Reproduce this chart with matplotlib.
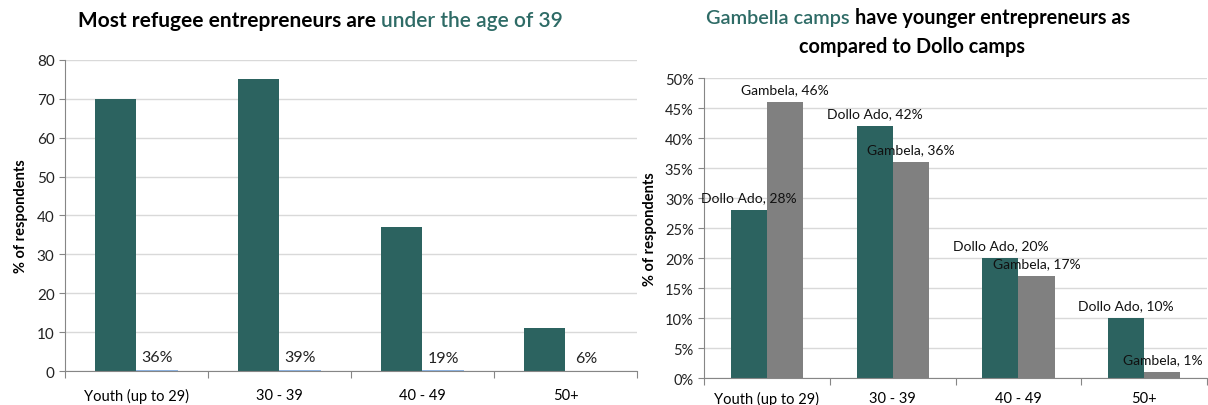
import matplotlib.pyplot as plt
import numpy as np

# data
age_groups = ['Youth (up to 29)', '30 - 39', '40 - 49', '50+']
overall_counts = [70, 75, 37, 11]
overall_share = [0.36, 0.39, 0.19, 0.06]
dollo_share = [0.28, 0.42, 0.20, 0.10]
gambela_share = [0.46, 0.36, 0.17, 0.01]

TEAL = '#2C6360'
GREY = '#808080'
LIGHT = '#8EB4E3'
GRID = '#D9D9D9'
AXIS = '#868686'
TITLE_TEAL = '#2E6B66'

plt.rcParams['font.family'] = ['Lato', 'DejaVu Sans']

fig = plt.figure(figsize=(12.08, 4.06), dpi=100)
ax1 = fig.add_axes([0.0538, 0.0837, 0.4735, 0.7663])
ax2 = fig.add_axes([0.5828, 0.0665, 0.4165, 0.7389])


def style_axes(ax, ymax, ystep, pad):
    ax.set_xlim(-0.5, 3.5)
    ax.set_ylim(0, ymax)
    ax.set_yticks(np.arange(0, ymax + ystep / 2, ystep))
    ax.yaxis.grid(True, color=GRID, linewidth=1)
    ax.set_axisbelow(True)
    for s in ['top', 'right']:
        ax.spines[s].set_visible(False)
    for s in ['left', 'bottom']:
        ax.spines[s].set_color(AXIS)
    ax.set_xticks(np.arange(-0.5, 4, 1))
    ax.set_xticklabels([])
    ax.set_xticks(np.arange(4), minor=True)
    ax.set_xticklabels(age_groups, minor=True)
    ax.tick_params(axis='x', which='major', length=5, color=AXIS)
    ax.tick_params(axis='x', which='minor', length=0, pad=pad, labelsize=10.5)
    ax.tick_params(axis='y', length=4, color=AXIS, labelsize=11, labelcolor='#222222')
    ax.set_ylabel('% of respondents', fontweight='bold', fontsize=10.5)


def two_tone(xc, y, parts, size):
    # parts: list of (text, colour, weight); centred on xc (figure fraction)
    texts = [fig.text(0, y, s, color=c, fontweight=wt, fontsize=size, ha='left', va='center')
             for s, c, wt in parts]
    fig.canvas.draw()
    widths = [t.get_window_extent().width / fig.bbox.width for t in texts]
    x0 = xc - sum(widths) / 2
    for t, wd in zip(texts, widths):
        t.set_x(x0)
        x0 += wd


x = np.arange(len(age_groups))
w = 0.287

# left panel
style_axes(ax1, 80, 10, 12)
ax1.bar(x - w / 2, overall_counts, w, color=TEAL)
ax1.bar(x + w / 2, overall_share, w, color=LIGHT)
for xi, v in zip(x, overall_share):
    ax1.annotate(f'{v:.0%}', (xi + w / 2, v), xytext=(0, 4), textcoords='offset points',
                 ha='center', va='bottom', fontsize=11.5, color='#222222')
ax1.yaxis.labelpad = 6

# right panel
style_axes(ax2, 0.5, 0.05, 9)
ax2.yaxis.set_major_formatter(plt.FuncFormatter(lambda v, p: f'{v:.0%}'))
ax2.tick_params(axis='y', labelsize=10.5)
ax2.bar(x - w / 2, dollo_share, w, color=TEAL)
ax2.bar(x + w / 2, gambela_share, w, color=GREY)
for xi, v in zip(x, dollo_share):
    ax2.annotate(f'Dollo Ado, {v:.0%}', (xi - w / 2, v), xytext=(0, 5), textcoords='offset points',
                 ha='center', va='bottom', fontsize=10, color='#111111')
for xi, v in zip(x, gambela_share):
    ax2.annotate(f'Gambela, {v:.0%}', (xi + w / 2, v), xytext=(0, 5), textcoords='offset points',
                 ha='center', va='bottom', fontsize=10, color='#111111')
ax2.yaxis.labelpad = 6

# titles with two colours
two_tone(0.265, 0.948, [('Most refugee entrepreneurs are ', 'black', 'bold'),
                        ('under the age of 39', TITLE_TEAL, 'semibold')], 15)
two_tone(0.760, 0.955, [('Gambella camps ', TITLE_TEAL, 'semibold'),
                        ('have younger entrepreneurs as', 'black', 'bold')], 14.3)
fig.text(0.755, 0.885, 'compared to Dollo camps', fontsize=14.3, fontweight='bold',
         ha='center', va='center')

fig.savefig('out.png', dpi=100)
